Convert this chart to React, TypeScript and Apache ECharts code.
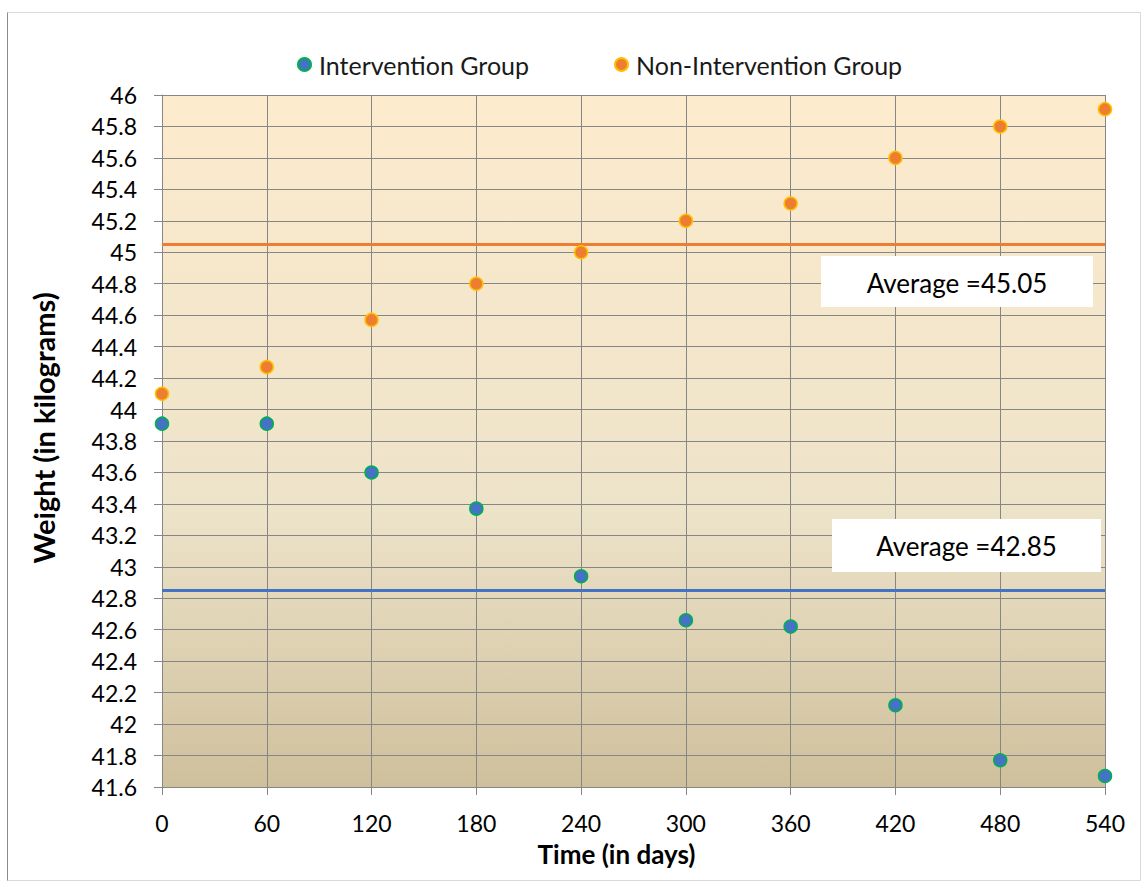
import React, { useEffect, useRef } from "react";
import * as echarts from "echarts";

// Measurement days
const days = [0, 60, 120, 180, 240, 300, 360, 420, 480, 540];

// Weight (kg) per group at each measurement day
const interventionKg = [43.91, 43.91, 43.6, 43.37, 42.94, 42.66, 42.62, 42.12, 41.77, 41.67];
const nonInterventionKg = [44.1, 44.27, 44.57, 44.8, 45.0, 45.2, 45.31, 45.6, 45.8, 45.91];

// Group averages shown as horizontal reference lines
const interventionAverage = 42.85;
const nonInterventionAverage = 45.05;

// Axis ranges
const yMin = 41.6;
const yMax = 46;
const yStep = 0.2;
const xMin = 0;
const xMax = 540;
const xStep = 60;

const seriesNames = ["Intervention Group", "Non-Intervention Group"];

const FONT = "Lato, 'Open Sans', sans-serif";
const GRID_COLOR = "#868686";

export default function App() {
  const ref = useRef<HTMLDivElement>(null);

  useEffect(() => {
    if (!ref.current) return;
    const chart = echarts.init(ref.current, undefined, { renderer: "svg" });

    const toPoints = (vals: number[]) => days.map((d, i) => [d, vals[i]]);

    const averageBox = (
      x: number,
      y: number,
      w: number,
      h: number,
      value: number,
      textY: number
    ) => ({
      type: "group",
      children: [
        {
          type: "rect",
          shape: { x, y, width: w, height: h },
          style: { fill: "#ffffff" },
          z: 20,
        },
        {
          type: "text",
          x: x + w / 2,
          y: textY,
          z: 21,
          style: {
            text: `Average =${value}`,
            fontFamily: FONT,
            fontSize: 26,
            fill: "#000000",
            align: "center",
            verticalAlign: "middle",
            textAlign: "center",
            textVerticalAlign: "middle",
          },
        },
      ],
    });

    const legendText = {
      fontFamily: FONT,
      fontSize: 25,
      color: "#1a1a1a",
      padding: [0, 0, 0, 3],
    };

    chart.setOption({
      animation: false,
      backgroundColor: "#ffffff",
      grid: { left: 162, top: 95, right: 43, bottom: 99, show: false },
      legend: [
        {
          data: [seriesNames[0]],
          left: 292,
          top: 47,
          itemWidth: 13,
          itemHeight: 13,
          icon: "circle",
          textStyle: legendText,
        },
        {
          data: [seriesNames[1]],
          left: 609,
          top: 47,
          itemWidth: 13,
          itemHeight: 13,
          icon: "circle",
          textStyle: legendText,
        },
      ],
      xAxis: {
        type: "value",
        min: xMin,
        max: xMax,
        interval: xStep,
        name: "Time (in days)",
        nameLocation: "middle",
        nameGap: 54,
        nameTextStyle: {
          fontFamily: FONT,
          fontWeight: "bold",
          fontSize: 26,
          color: "#000000",
          padding: [0, 34, 0, 0],
        },
        axisLine: { show: true, lineStyle: { color: GRID_COLOR, width: 1 } },
        axisTick: { show: true, length: 8, lineStyle: { color: GRID_COLOR } },
        axisLabel: { fontFamily: FONT, fontSize: 23, color: "#000000", margin: 24 },
        splitLine: { show: true, lineStyle: { color: GRID_COLOR, width: 1 } },
      },
      yAxis: {
        type: "value",
        min: yMin,
        max: yMax,
        interval: yStep,
        name: "Weight (in kilograms)",
        nameLocation: "middle",
        nameRotate: 90,
        nameGap: 104,
        nameTextStyle: {
          fontFamily: FONT,
          fontWeight: "bold",
          fontSize: 29,
          color: "#000000",
          padding: [0, 0, 0, 26],
        },
        axisLine: { show: true, lineStyle: { color: GRID_COLOR, width: 1 } },
        axisTick: { show: true, length: 8, lineStyle: { color: GRID_COLOR } },
        axisLabel: {
          fontFamily: FONT,
          fontSize: 23,
          color: "#000000",
          margin: 25,
          formatter: (v: number) => String(Number(v.toFixed(1))),
        },
        splitLine: { show: true, lineStyle: { color: GRID_COLOR, width: 1 } },
      },
      graphic: [
        // chart frame
        {
          type: "rect",
          shape: { x: 7.5, y: 12.5, width: 1133, height: 868 },
          style: { fill: "none", stroke: "#d9d9d9", lineWidth: 1 },
          z: 0,
        },
        {
          type: "line",
          shape: { x1: 7.5, y1: 12.5, x2: 7.5, y2: 880.5 },
          style: { stroke: "#8c8c8c", lineWidth: 1 },
          z: 0,
        },
        // plot area gradient fill
        {
          type: "rect",
          shape: { x: 162, y: 95, width: 943, height: 692 },
          style: {
            fill: new echarts.graphic.LinearGradient(0, 0, 0, 1, [
              { offset: 0, color: "#fdebcd" },
              { offset: 0.6, color: "#ede3c9" },
              { offset: 1, color: "#cfc09c" },
            ]),
          },
          z: -10,
          silent: true,
        },
        averageBox(821, 256, 272, 51, nonInterventionAverage, 283),
        averageBox(832, 519, 269, 53, interventionAverage, 546),
      ],
      series: [
        {
          name: seriesNames[0],
          type: "scatter",
          data: toPoints(interventionKg),
          symbol: "circle",
          symbolSize: 13,
          z: 5,
          itemStyle: { color: "#4472c4", borderColor: "#00b050", borderWidth: 1.5, opacity: 1 },
          markLine: {
            silent: true,
            symbol: "none",
            label: { show: false },
            lineStyle: { color: "#4472c4", width: 3, type: "solid" },
            data: [{ yAxis: interventionAverage }],
          },
        },
        {
          name: seriesNames[1],
          type: "scatter",
          data: toPoints(nonInterventionKg),
          symbol: "circle",
          symbolSize: 13,
          z: 5,
          itemStyle: { color: "#ed7d31", borderColor: "#ffc000", borderWidth: 1.5, opacity: 1 },
          markLine: {
            silent: true,
            symbol: "none",
            label: { show: false },
            lineStyle: { color: "#ed7d31", width: 3, type: "solid" },
            data: [{ yAxis: nonInterventionAverage }],
          },
        },
      ],
    });

    return () => chart.dispose();
  }, []);

  return (
    <div
      ref={ref}
      style={{ position: "absolute", left: 0, top: 0, width: 1148, height: 886 }}
    />
  );
}
